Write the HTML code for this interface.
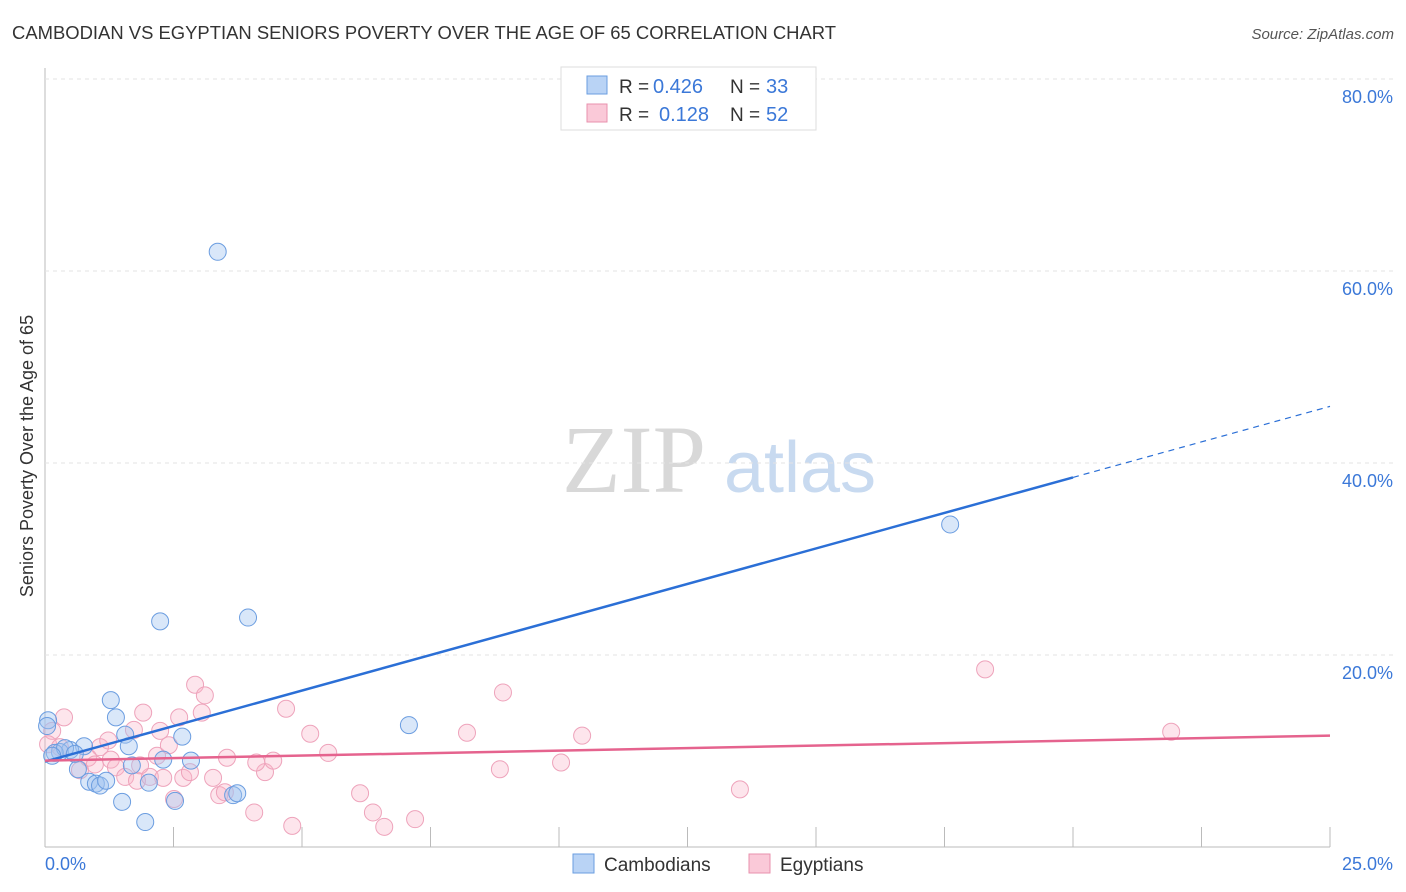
<!DOCTYPE html>
<html><head><meta charset="utf-8"><style>
body{margin:0;background:#fff;font-family:"Liberation Sans",sans-serif}
svg{display:block}
</style></head><body>
<svg id="c" width="1406" height="892">
<text x="12" y="39" font-size="18" fill="#333" textLength="824" lengthAdjust="spacingAndGlyphs">CAMBODIAN VS EGYPTIAN SENIORS POVERTY OVER THE AGE OF 65 CORRELATION CHART</text>
<text x="1394" y="39" font-size="15" fill="#555" font-style="italic" text-anchor="end">Source: ZipAtlas.com</text>
<text x="0" y="0" transform="translate(33,456) rotate(-90)" font-size="18" fill="#333" text-anchor="middle">Seniors Poverty Over the Age of 65</text>
<text x="634" y="492" font-size="96" fill="#d8d8d8" font-family="Liberation Serif,serif" text-anchor="middle">ZIP</text>
<text x="800" y="492" font-size="72" fill="#c8daf0" text-anchor="middle">atlas</text>
<g id="grid"></g><g id="pts"></g><g id="lines"></g>
<g>
<rect x="561" y="67" width="255" height="63" fill="#fff" stroke="#ddd"/>
<rect x="587" y="76" width="20" height="18" fill="#b9d3f5" stroke="#6a9ee0"/>
<rect x="587" y="104" width="20" height="18" fill="#fac9d8" stroke="#e891ae"/>
<text x="619" y="93" font-size="19" fill="#333">R =</text>
<text x="653" y="93" font-size="20" fill="#3b78d8">0.426</text>
<text x="730" y="93" font-size="19" fill="#333">N =</text>
<text x="766" y="93" font-size="20" fill="#3b78d8">33</text>
<text x="619" y="121" font-size="19" fill="#333">R =</text>
<text x="659" y="121" font-size="20" fill="#3b78d8">0.128</text>
<text x="730" y="121" font-size="19" fill="#333">N =</text>
<text x="766" y="121" font-size="20" fill="#3b78d8">52</text>
</g>
<g>
<rect x="573" y="854" width="21" height="19" fill="#b9d3f5" stroke="#6a9ee0"/>
<text x="604" y="871" font-size="19" fill="#333">Cambodians</text>
<rect x="749" y="854" width="21" height="19" fill="#fac9d8" stroke="#e891ae"/>
<text x="780" y="871" font-size="19" fill="#333">Egyptians</text>
</g>
<text x="45" y="870" font-size="18" fill="#3b78d8">0.0%</text>
<text x="1393" y="870" font-size="18" fill="#3b78d8" text-anchor="end">25.0%</text>
</svg>
<script>
const yTicks=[20,40,60,80];
const yTickLabels=["20.0%","40.0%","60.0%","80.0%"];
const xTicks=[2.5,5,7.5,10,12.5,15,17.5,20,22.5,25];
const camX=[3.36,2.24,3.95,17.61,7.08,1.28,1.38,1.56,1.63,2.67,2.84,2.30,1.69,0.76,0.49,0.29,0.19,0.06,0.04,0.64,0.86,0.99,1.07,1.19,1.50,1.95,2.02,2.53,3.66,3.74,0.39,0.58,0.14];
const camY=[62.0,23.5,23.9,33.6,12.7,15.3,13.5,11.7,10.5,11.5,9.0,9.1,8.5,10.5,10.1,9.9,9.8,13.2,12.6,8.1,6.8,6.6,6.4,6.9,4.7,2.6,6.7,4.8,5.4,5.6,10.3,9.7,9.5];
const egX=[2.92,3.11,3.05,1.91,2.61,0.37,0.14,0.06,0.29,1.07,0.84,1.28,1.38,1.73,2.24,2.18,2.41,1.56,1.79,2.04,2.30,2.69,2.82,3.39,3.27,2.51,3.54,4.07,4.28,4.11,4.44,4.69,4.81,5.16,5.51,6.13,6.38,6.60,7.20,8.21,8.91,8.85,10.04,10.45,13.52,18.29,21.91,0.97,0.68,1.85,1.23,3.50];
const egY=[16.9,15.8,14.0,14.0,13.5,13.5,12.1,10.7,10.4,10.4,9.3,9.1,8.3,12.2,12.1,9.5,10.6,7.3,6.9,7.3,7.2,7.2,7.8,5.4,7.2,5.0,9.3,3.6,7.8,8.8,9.0,14.4,2.2,11.8,9.8,5.6,3.6,2.1,2.9,11.9,16.1,8.1,8.8,11.6,6.0,18.5,12.0,8.6,8.0,8.5,11.1,5.7];
const X=v=>45+v*51.4, Y=v=>847-v*9.6;
const ns="http://www.w3.org/2000/svg";
function mk(t,a,p){const e=document.createElementNS(ns,t);for(const k in a)e.setAttribute(k,a[k]);p.appendChild(e);return e;}
const g=document.getElementById('grid');
mk('line',{x1:45,y1:68,x2:45,y2:847,stroke:'#bbb'},g);
mk('line',{x1:45,y1:847,x2:1330,y2:847,stroke:'#bbb'},g);
yTicks.forEach((t,i)=>{
 const l=mk('line',{x1:45,y1:Y(t),x2:1394,y2:Y(t),stroke:'#e3e3e3','stroke-dasharray':'4,4'},g);
 
 
 const tx=mk('text',{x:1393,y:Y(t)+24,'font-size':18,fill:'#3b78d8','text-anchor':'end'},g);
 tx.textContent=yTickLabels[i];
 
 
});
xTicks.forEach(t=>{
 const l=mk('line',{x1:X(t),y1:827,x2:X(t),y2:847,stroke:'#bbb'},g);
 
 
});
const p=document.getElementById('pts');
egX.forEach((x,i)=>{
 const c=mk('circle',{cx:X(x),cy:Y(egY[i]),r:8.5,fill:'rgba(248,180,200,0.35)',stroke:'#eea3bb','stroke-width':1},p);
 
 
});
camX.forEach((x,i)=>{
 const c=mk('circle',{cx:X(x),cy:Y(camY[i]),r:8.5,fill:'rgba(160,196,240,0.4)',stroke:'#6b9de0','stroke-width':1},p);
 
 
});
const L=document.getElementById('lines');
let a=mk('line',{x1:X(0),y1:Y(8.9),x2:X(20),y2:Y(38.5),stroke:'#2b6fd6','stroke-width':2.5},L);


a=mk('line',{x1:X(20),y1:Y(38.5),x2:X(25),y2:Y(45.9),stroke:'#2b6fd6','stroke-width':1.2,'stroke-dasharray':'6,5'},L);


a=mk('line',{x1:X(0),y1:Y(9.0),x2:X(25),y2:Y(11.6),stroke:'#e5638e','stroke-width':2.5},L);


</script>
</body></html>
